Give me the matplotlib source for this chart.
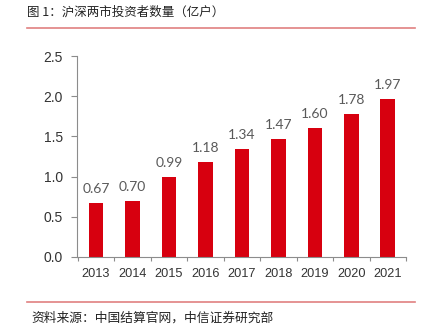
import matplotlib
matplotlib.use("Agg")
import matplotlib.pyplot as plt
from matplotlib.lines import Line2D

plt.rcParams['font.family'] = ['Noto Sans CJK SC', 'DejaVu Sans']

years = ["2013", "2014", "2015", "2016", "2017", "2018", "2019", "2020", "2021"]
investors = [0.67, 0.70, 0.99, 1.18, 1.34, 1.47, 1.60, 1.78, 1.97]
value_labels = ["0.67", "0.70", "0.99", "1.18", "1.34", "1.47", "1.60", "1.78", "1.97"]
yticks = [0.0, 0.5, 1.0, 1.5, 2.0, 2.5]
ytick_labels = ["0.0", "0.5", "1.0", "1.5", "2.0", "2.5"]
title = "图 1：沪深两市投资者数量（亿户）"
source = "资料来源：中国结算官网，中信证券研究部"

W, H = 430, 327
fig = plt.figure(figsize=(W / 100, H / 100), dpi=100)
fig.patch.set_facecolor("white")

# plot area in pixel coordinates
left, right, top, bottom = 77, 406, 56, 257
ax = fig.add_axes([left / W, 1 - bottom / H, (right - left) / W, (bottom - top) / H])

bar_color = "#D7000F"
axis_color = "#8C8C8C"
text_color = "#333333"

x = list(range(len(years)))
ax.bar(x, investors, width=0.4, color=bar_color)
for xi, v, lab in zip(x, investors, value_labels):
    ax.text(xi, v + 0.1, lab, ha="center", va="bottom", fontsize=10,
            family="Lato", color="#595959")

ax.set_xlim(-0.52, 8.5)
ax.set_ylim(0, 2.5)
ax.set_yticks(yticks)
ax.set_yticklabels(ytick_labels, family="Liberation Sans", fontsize=10, color=text_color)

# category labels centered under bars, tick marks at category boundaries
ax.set_xticks([i - 0.5 for i in range(len(years) + 1)])
ax.set_xticklabels([])
ax.set_xticks(x, minor=True)
ax.set_xticklabels(years, minor=True, family="Liberation Sans", fontsize=9.2, color=text_color)
ax.tick_params(axis="x", which="minor", length=0, pad=8)
ax.tick_params(axis="x", which="major", length=3, color=axis_color, direction="out")
ax.tick_params(axis="y", length=4, color=axis_color, direction="out", pad=6)

for side in ("top", "right"):
    ax.spines[side].set_visible(False)
for side in ("left", "bottom"):
    ax.spines[side].set_color(axis_color)
    ax.spines[side].set_linewidth(0.8)

# header and footer
fig.text(27 / W, 1 - 12 / H, title, ha="left", va="center", fontsize=9, color="#222222")
fig.add_artist(Line2D([27 / W, 415 / W], [1 - 28 / H, 1 - 28 / H], color="#E08080", lw=1.2))
fig.add_artist(Line2D([27 / W, 415 / W], [1 - 302 / H, 1 - 302 / H], color="#E08080", lw=1.2))
fig.text(31 / W, 1 - 318 / H, source, ha="left", va="center", fontsize=9.2, color="#222222")

fig.savefig("out.png", dpi=100, facecolor="white")
